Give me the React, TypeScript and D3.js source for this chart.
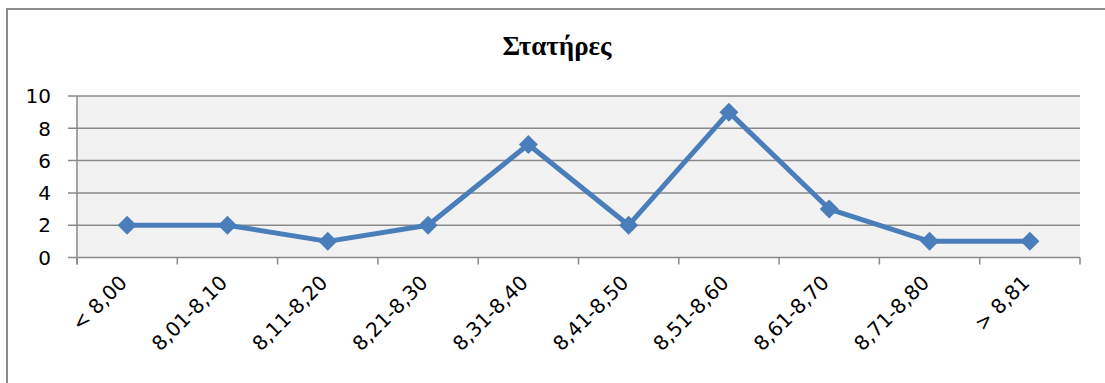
import React from "react";
import * as d3 from "d3";

const categories = ["< 8,00", "8,01-8,10", "8,11-8,20", "8,21-8,30", "8,31-8,40", "8,41-8,50", "8,51-8,60", "8,61-8,70", "8,71-8,80", "> 8,81"];
const values = [2, 2, 1, 2, 7, 2, 9, 3, 1, 1];
const yTicks = [0, 2, 4, 6, 8, 10];
const title = "Στατήρες";

const W = 1105, H = 383;
const plot = { left: 77, right: 1080, top: 96, bottom: 257.5 };

export default function App() {
  const x = d3.scaleBand<string>().domain(categories).range([plot.left, plot.right]);
  const y = d3.scaleLinear().domain([0, 10]).range([plot.bottom, plot.top]);
  const cx = (c: string) => (x(c) as number) + x.bandwidth() / 2;
  const line = d3.line<number>().x((_, i) => cx(categories[i])).y(v => y(v));
  const grid = "#898989";
  const font = "'DejaVu Sans', sans-serif";
  const boundaries = d3.range(categories.length + 1).map(i => plot.left + i * x.bandwidth());
  return (
    <svg width={W} height={H} style={{ position: "absolute", left: 0, top: 0 }}>
      <rect x={0} y={0} width={W} height={H} fill="#fff" />
      <rect x={7} y={9} width={1200} height={500} fill="#fff" stroke="#8c8c8c" strokeWidth={2} />
      <text x={557} y={55} textAnchor="middle" style={{ fontFamily: '"Liberation Serif"', fontWeight: 700, fontSize: 27 }} fill="#000">{title}</text>
      <rect x={plot.left} y={plot.top} width={plot.right - plot.left} height={plot.bottom - plot.top} fill="#f2f2f2" />
      {yTicks.map(t => (
        <line key={"g" + t} x1={68} x2={plot.right} y1={y(t)} y2={y(t)} stroke={grid} strokeWidth={1.5} />
      ))}
      <line x1={plot.left} x2={plot.left} y1={plot.top} y2={plot.bottom + 7} stroke={grid} strokeWidth={1.5} />
      {boundaries.map((b, i) => (
        <line key={"t" + i} x1={b} x2={b} y1={plot.bottom} y2={plot.bottom + 7} stroke={grid} strokeWidth={1.5} />
      ))}
      {yTicks.map(t => (
        <text key={"y" + t} x={51} y={y(t)} dy="0.36em" textAnchor="end" fontFamily={font} fontSize={20} fill="#000">{t}</text>
      ))}
      {categories.map(c => {
        const ax = cx(c) + 1, ay = 284;
        return (
          <text key={c} x={ax} y={ay} textAnchor="end" transform={`rotate(-45 ${ax} ${ay})`} fontFamily={font} fontSize={20} fill="#000">{c}</text>
        );
      })}
      <path d={line(values) as string} fill="none" stroke="#4a7ebb" strokeWidth={5} strokeLinejoin="round" />
      {values.map((v, i) => {
        const px = cx(categories[i]), py = y(v), r = 9.5;
        return <path key={"m" + i} d={`M${px},${py - r}L${px + r},${py}L${px},${py + r}L${px - r},${py}Z`} fill="#4a7ebb" />;
      })}
    </svg>
  );
}
